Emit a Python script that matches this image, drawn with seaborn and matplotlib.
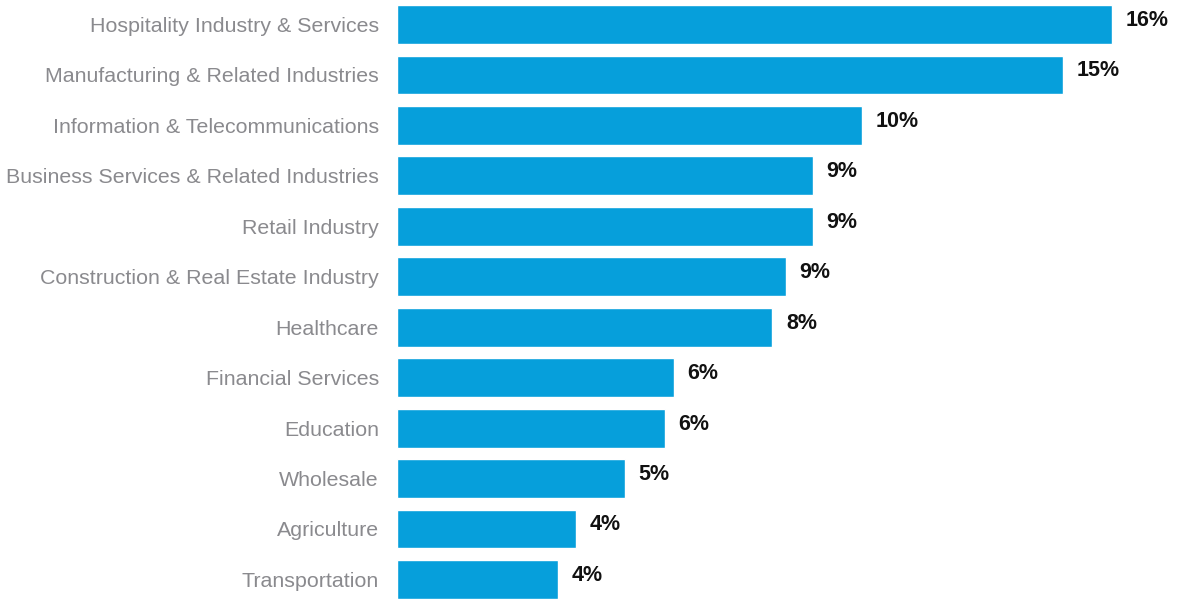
import matplotlib
matplotlib.use("Agg")
import matplotlib.pyplot as plt
import seaborn as sns
import pandas as pd

categories = [
    "Hospitality Industry & Services",
    "Manufacturing & Related Industries",
    "Information & Telecommunications",
    "Business Services & Related Industries",
    "Retail Industry",
    "Construction & Real Estate Industry",
    "Healthcare",
    "Financial Services",
    "Education",
    "Wholesale",
    "Agriculture",
    "Transportation",
]
values = [16.0, 14.9, 10.4, 9.3, 9.3, 8.7, 8.4, 6.2, 6.0, 5.1, 4.0, 3.6]
value_labels = ["16%", "15%", "10%", "9%", "9%", "9%", "8%", "6%", "6%", "5%", "4%", "4%"]

df = pd.DataFrame({"category": categories, "value": values})

sns.set_theme(style="white")
plt.rcParams["font.family"] = ["Liberation Sans", "DejaVu Sans"]

fig = plt.figure(figsize=(11.81, 5.99), dpi=100)
ax = fig.add_axes([397 / 1181, 0, 784 / 1181, 1])

sns.barplot(data=df, x="value", y="category", color="#069FDB", width=0.77,
            saturation=1, ax=ax, orient="h")

ax.set_xlim(0, 784 / 44.7)
ax.set_ylim(11.388, -0.486)
ax.set_xlabel("")
ax.set_ylabel("")
ax.set_xticks([])
for s in ax.spines.values():
    s.set_visible(False)
ax.tick_params(axis="y", length=0, pad=13, labelsize=15.4, labelcolor="#8a8a8e")

for i, (v, lab) in enumerate(zip(values, value_labels)):
    ax.text(v + 0.3, i - 0.08, lab, va="center", ha="left",
            fontsize=15.5, fontweight="bold", color="#111111")

fig.savefig("out.png", dpi=100)
